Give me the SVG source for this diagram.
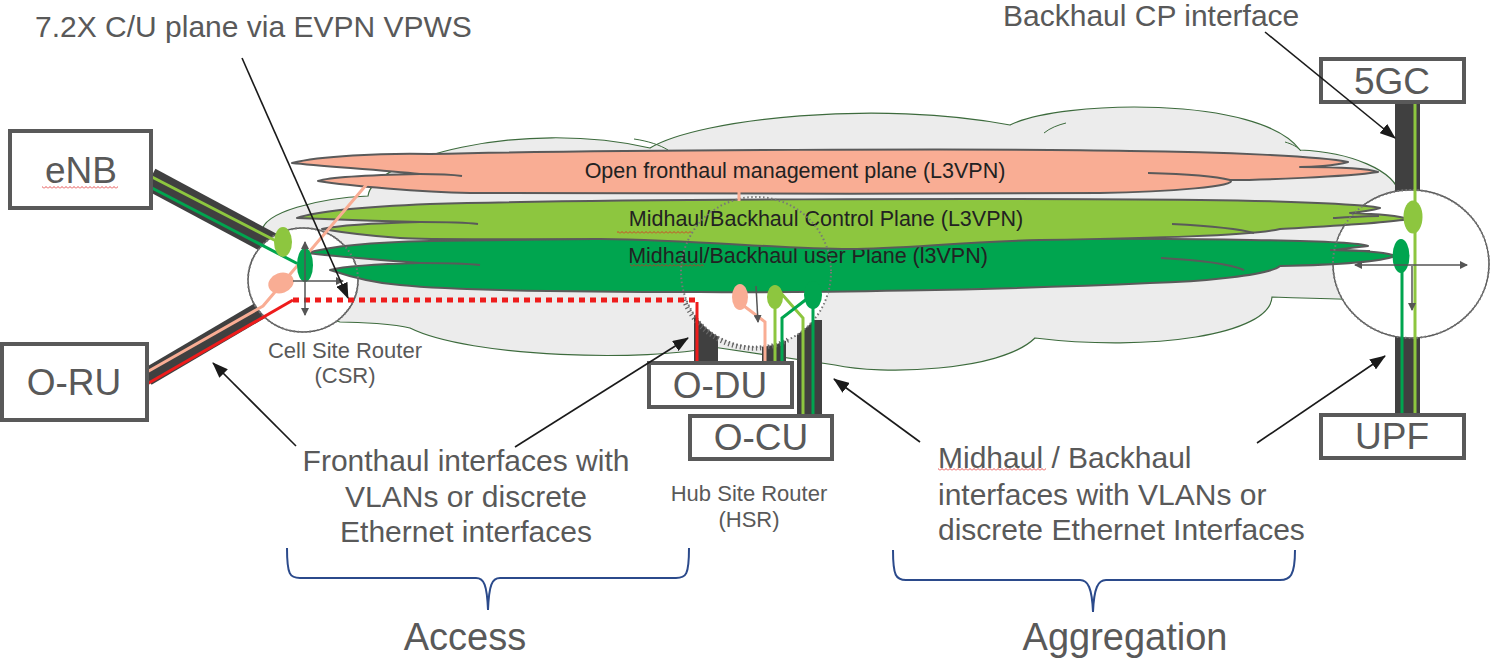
<svg xmlns="http://www.w3.org/2000/svg" width="1490" height="659" viewBox="0 0 1490 659">
<style>
text{font-family:"Liberation Sans",Arial,sans-serif;fill:#595959}
.lbl{font-size:30px}
.box{fill:#fff;stroke:#595959;stroke-width:4}
.bt{font-size:37px;text-anchor:middle}
.st{font-size:21.5px;fill:#222;text-anchor:middle}
.sm{font-size:22px;text-anchor:middle}
.big{font-size:38px;text-anchor:middle}
.ann{stroke:#1a1a1a;stroke-width:1.6;fill:none;marker-end:url(#ah)}
.bar{fill:#404040}
.lg{stroke:#8dc63f;stroke-width:3;fill:none}
.dg{stroke:#00a54f;stroke-width:3;fill:none}
.sal{stroke:#f9ad94;stroke-width:3;fill:none}
.streak{stroke:#5a5a5a;stroke-width:2;stroke-linejoin:round}
.inl{stroke:#5a5a5a;stroke-width:2;fill:none}
.ia{stroke:#555;stroke-width:1.5;fill:none}
.brace{stroke:#2b4a8b;stroke-width:2;fill:none}
.rt{fill:#fff;stroke:#595959;stroke-width:1.5}
.dot{fill:none;stroke:#777;stroke-width:2;stroke-dasharray:1.5 2.5}
.sq{fill:url(#sq)}
</style>
<defs>
<marker id="ah" viewBox="0 0 16 12" refX="15" refY="6" markerWidth="16" markerHeight="12" markerUnits="userSpaceOnUse" orient="auto"><path d="M0,0 L16,6 L0,12 z" fill="#1a1a1a"/></marker>
<marker id="sa" viewBox="0 0 8 8" refX="7" refY="4" markerWidth="8" markerHeight="8" markerUnits="userSpaceOnUse" orient="auto-start-reverse"><path d="M0,0 L8,4 L0,8 z" fill="#555"/></marker>
<pattern id="sq" width="4" height="3" patternUnits="userSpaceOnUse"><path d="M0,2.5 L2,0.5 L4,2.5" fill="none" stroke="#d22" stroke-width="0.8"/></pattern>
</defs>

<g id="cloud">
<path d="M 262,232 C 262,212 320,198 368,196 C 372,160 520,118 650,148 C 700,118 880,100 1010,125 C 1060,100 1260,95 1300,150 C 1350,152 1395,170 1400,195 L 1400,300 C 1370,300 1300,298 1272,297 C 1270,335 1150,352 1035,338 C 1000,372 880,375 835,365 L 713,347 C 650,362 470,358 410,328 C 395,324 360,322 340,322 L 262,300 Z" fill="#ececec" stroke="#3d6b3d" stroke-width="1.2"/>
<path d="M 634,139 C 648,141 660,145 668,150" fill="none" stroke="#3d6b3d" stroke-width="1"/>
<path d="M 1044,133 C 1050,128 1058,125 1066,123" fill="none" stroke="#3d6b3d" stroke-width="1"/>
<path d="M 1285,142 C 1292,144 1298,147 1301,151" fill="none" stroke="#3d6b3d" stroke-width="1"/>
</g>

<g id="connectors-trunks">
<line x1="150" y1="179" x2="290" y2="254" stroke="#404040" stroke-width="23"/>
<line x1="147" y1="377" x2="278" y2="300" stroke="#404040" stroke-width="18"/>
<rect class="bar" x="1395" y="102" width="25" height="100"/>
<rect class="bar" x="1395" y="325" width="25" height="90"/>
<rect class="bar" x="694" y="315" width="24" height="48"/>
<rect class="bar" x="762" y="330" width="24" height="33"/>
<rect class="bar" x="797" y="320" width="25" height="96"/>
</g>

<g id="csr">
<ellipse cx="303" cy="280" rx="55" ry="52" class="rt"/>
</g>
<g id="hsr">
<circle cx="756" cy="272" r="75" fill="#fff"/>
</g>
<g id="core-router">
<ellipse cx="1411" cy="264" rx="78" ry="74" class="rt"/>
</g>

<g id="user-plane">
<path class="streak" fill="#00a54f" d="M 308,253 C 330,246 380,242 430,241 C 600,238 1000,237 1250,240 C 1320,241 1360,243 1368,246 C 1350,248 1340,249 1335,250 C 1370,251 1390,253 1395,256 C 1380,262 1330,265 1280,266 C 1270,275 1200,282 1150,283 C 1000,290 800,293 700,292 C 550,292 450,290 400,285 C 370,283 345,275 330,270 C 345,266 380,264 420,263 C 380,260 330,256 308,253 Z"/>
<path class="inl" d="M 1161,258 C 1200,260 1230,264 1244,270"/>
<path class="inl" d="M 1330,250 C 1345,250 1360,251 1370,251"/>
<path class="inl" d="M 420,263 C 450,263 470,264 480,265"/>
<text class="st" x="808" y="263">Midhaul/Backhaul user Plane (l3VPN)</text>
<rect class="sq" x="630" y="264" width="74" height="3"/>
</g>

<g id="control-plane">
<path class="streak" fill="#8dc63f" d="M 297,218 C 320,210 380,206 430,204 C 600,199 1000,198 1200,200 C 1300,201 1370,205 1380,208 C 1370,211 1360,212 1350,213 C 1380,214 1400,216 1408,219 C 1390,223 1330,226 1280,229 C 1250,236 1150,238 1040,240 C 960,242 900,249 850,249 C 780,249 700,240 600,239 C 500,239 430,240 400,238 C 370,236 340,232 322,229 C 340,225 380,223 420,222 C 380,221 320,219 297,218 Z"/>
<path class="inl" d="M 1172,224 C 1210,226 1240,229 1254,233"/>
<path class="inl" d="M 1333,218 C 1350,217 1365,216 1379,216"/>
<path class="inl" d="M 420,222 C 450,222 470,223 478,224"/>
<text class="st" x="826" y="226">Midhaul/Backhaul Control Plane (L3VPN)</text>
<rect class="sq" x="617" y="231" width="74" height="3"/>
</g>

<g id="management-plane">
<path class="streak" fill="#f9ad94" d="M 292,163 C 320,156 380,153 430,154 C 600,150 1000,148 1130,151 C 1220,152 1320,156 1348,162 C 1335,166 1310,167 1300,167 C 1340,167 1370,169 1378,172 C 1345,177 1260,180 1230,180 C 1240,186 1170,192 1100,193 C 900,194 600,194 470,193 C 420,192 350,186 318,181 C 330,177 370,175 420,174 C 380,170 320,166 292,163 Z"/>
<path class="inl" d="M 1148,173 C 1190,174 1215,176 1230,180"/>
<path class="inl" d="M 420,174 C 440,174 455,175 462,176"/>
<text class="st" x="795" y="178">Open fronthaul management plane (L3VPN)</text>
</g>

<g id="router-outlines">
<ellipse cx="303" cy="280" rx="55" ry="52" class="dot"/>
<circle cx="756" cy="272" r="75" class="dot"/>
<path d="M 684,300 A 75,75 0 0 0 790,339" fill="none" stroke="#666" stroke-width="5" stroke-dasharray="1.2 2.8"/>
<ellipse cx="1411" cy="264" rx="78" ry="74" class="dot"/>
</g>

<g id="connectors">
<line class="lg" x1="152" y1="177" x2="280" y2="243"/>
<line class="dg" x1="152" y1="188" x2="302" y2="266"/>
<polyline class="sal" points="147,372 263,306 367,184"/>
<line x1="147" y1="384" x2="293" y2="300" stroke="#ee1c1c" stroke-width="3"/>
<line x1="293" y1="300" x2="697" y2="300" stroke="#ee1c1c" stroke-width="5" stroke-dasharray="6 5"/>
<line x1="697" y1="302" x2="697" y2="363" stroke="#ee1c1c" stroke-width="3"/>
<line class="sal" x1="739" y1="192" x2="739" y2="201"/>
<polyline class="sal" points="744,306 765,322 765,363"/>
<polyline class="lg" points="775,300 775,363"/>
<polyline class="lg" points="780,292 803,318 803,416"/>
<polyline class="dg" points="813,300 813,416"/>
<polyline class="dg" points="808,298 782,318 782,363"/>
<line class="lg" x1="1415" y1="102" x2="1415" y2="415"/>
<line class="dg" x1="1402" y1="256" x2="1402" y2="415"/>
</g>

<g id="router-ports">
<ellipse cx="283" cy="242" rx="9" ry="15" fill="#8dc63f"/>
<ellipse cx="305" cy="265" rx="8" ry="17" fill="#00a54f"/>
<ellipse cx="281" cy="283" rx="13" ry="10" fill="#f9ad94" transform="rotate(-20 281 283)"/>
<line class="ia" x1="305" y1="242" x2="305" y2="315" marker-start="url(#sa)" marker-end="url(#sa)"/>
<line class="ia" x1="293" y1="281" x2="343" y2="281" marker-end="url(#sa)"/>
<ellipse cx="740" cy="297" rx="8" ry="13" fill="#f9ad94"/>
<ellipse cx="775" cy="297" rx="8" ry="12" fill="#8dc63f"/>
<ellipse cx="813" cy="295" rx="9" ry="14" fill="#00a54f"/>
<line class="ia" x1="756" y1="286" x2="758" y2="322" marker-end="url(#sa)"/>
<ellipse cx="1413" cy="217" rx="9.5" ry="16.5" fill="#8dc63f"/>
<ellipse cx="1401" cy="256" rx="8.5" ry="17" fill="#00a54f"/>
<line class="ia" x1="1355" y1="265" x2="1467" y2="265" marker-start="url(#sa)" marker-end="url(#sa)"/>
<line class="ia" x1="1412" y1="266" x2="1412" y2="310" marker-end="url(#sa)"/>
</g>

<g id="enb"><rect class="box" x="10" y="131" width="141" height="77"/><text class="bt" x="81" y="183">eNB</text><rect class="sq" x="42" y="186" width="76" height="3"/></g>
<g id="o-ru"><rect class="box" x="2" y="344" width="145" height="76"/><text class="bt" x="74" y="395">O-RU</text></g>
<g id="o-du"><rect class="box" x="649" y="363" width="143" height="44"/><text class="bt" x="720" y="398">O-DU</text></g>
<g id="o-cu"><rect class="box" x="690" y="416" width="142" height="43"/><text class="bt" x="761" y="450">O-CU</text></g>
<g id="fivegc"><rect class="box" x="1321" y="59" width="143" height="43"/><text class="bt" x="1392" y="94">5GC</text></g>
<g id="upf"><rect class="box" x="1321" y="415" width="143" height="43"/><text class="bt" x="1392" y="449">UPF</text></g>

<g id="labels">
<text class="lbl" x="35" y="37">7.2X C/U plane via EVPN VPWS</text>
<text class="lbl" x="1003" y="26">Backhaul CP interface</text>
<text class="sm" x="345" y="358">Cell Site Router</text>
<text class="sm" x="345" y="383">(CSR)</text>
<text class="sm" x="749" y="501">Hub Site Router</text>
<text class="sm" x="749" y="527">(HSR)</text>
<text class="lbl" x="466" y="471" text-anchor="middle">Fronthaul interfaces with</text>
<text class="lbl" x="466" y="507" text-anchor="middle">VLANs or discrete</text>
<text class="lbl" x="466" y="542" text-anchor="middle">Ethernet interfaces</text>
<text class="lbl" x="938" y="468">Midhaul / Backhaul</text>
<rect class="sq" x="938" y="468" width="108" height="3"/>
<text class="lbl" x="938" y="505">interfaces with VLANs or</text>
<text class="lbl" x="938" y="540">discrete Ethernet Interfaces</text>
<text class="big" x="465" y="650">Access</text>
<text class="big" x="1125" y="650">Aggregation</text>
</g>

<g id="annotations">
<line class="ann" x1="242" y1="58" x2="348" y2="298"/>
<line class="ann" x1="1265" y1="32" x2="1395" y2="138"/>
<line class="ann" x1="296" y1="446" x2="213" y2="363"/>
<line class="ann" x1="515" y1="447" x2="688" y2="338"/>
<line class="ann" x1="920" y1="442" x2="834" y2="379"/>
<line class="ann" x1="1257" y1="443" x2="1385" y2="356"/>
<path class="brace" d="M 287,548 C 287,575 290,578 300,578 L 476,578 C 484,578 487,585 488,610 C 489,585 492,578 500,578 L 676,578 C 686,578 689,575 689,548"/>
<path class="brace" d="M 893,550 C 893,576 896,580 906,580 L 1080,580 C 1088,580 1092,588 1093,612 C 1094,588 1098,580 1106,580 L 1280,580 C 1290,580 1295,576 1295,550"/>
</g>
</svg>
